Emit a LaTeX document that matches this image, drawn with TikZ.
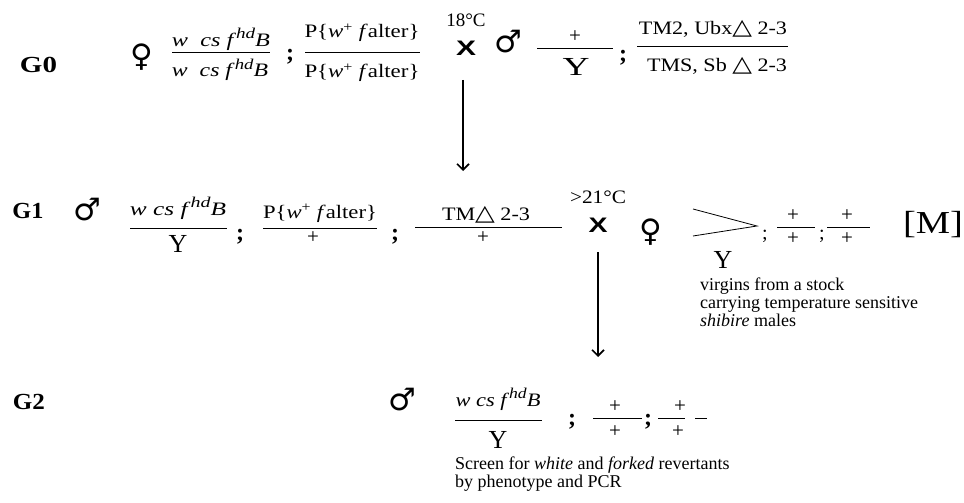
\documentclass[tikz,border=0pt]{standalone}
\usepackage{fontspec}
\usepackage{graphicx}
\setmainfont{Liberation Serif}
\newfontfamily\dejavu{DejaVu Sans}
\newfontfamily\arialf{Liberation Sans}
\usetikzlibrary{arrows.meta}
\newcommand{\tri}{{\dejavu\fontsize{22}{22}\selectfont △}}
\newcommand{\hdsup}{\raisebox{0.42em}{\fontsize{15}{15}\selectfont\itshape hd}}
\newcommand{\wcs}{\textit{w cs f}\hdsup\textit{B}}
\newcommand{\wcsw}{\textit{w\enspace cs f}\hdsup\textit{B}}
\newcommand{\pwf}{P\{\textit{w}\textsuperscript{+} \textit{f}alter\}}
\newcommand{\fitw}[2]{\resizebox{#1}{\height}{#2}}
\begin{document}
\begin{tikzpicture}[x=1pt,y=-1pt,
  lbl/.style={font=\fontsize{23}{28}\selectfont\bfseries, inner sep=0},
  geno/.style={font=\fontsize{19}{22}\selectfont, inner sep=0, anchor=base},
  bigY/.style={font=\fontsize{26}{30}\selectfont, inner sep=0, anchor=base},
  plus/.style={font=\fontsize{21}{22}\selectfont, inner sep=0},
  semi/.style={font=\fontsize{24}{28}\selectfont\bfseries, inner sep=0, anchor=base},
  smallsemi/.style={font=\fontsize{20}{22}\selectfont, inner sep=0, anchor=base},
  temp/.style={font=\fontsize{19}{20}\selectfont, inner sep=0},
  sym/.style={font=\dejavu\fontsize{31}{31}\selectfont, inner sep=0},
  cross/.style={font=\arialf\bfseries\fontsize{21}{21}\selectfont, inner sep=0},
  note/.style={font=\fontsize{18}{18}\selectfont, inner sep=0, align=left, anchor=north west},
  fl/.style={line width=0.8pt},
  conn/.style={line width=1.6pt, -{Straight Barb[length=6pt,width=12pt,line width=1.6pt]}}]
\useasboundingbox (0,0) rectangle (964,503);
% ---------- G0 ----------
\node[lbl] (g0) at (38.5,65) {\fitw{37pt}{G0}};
\node[sym] (f0) at (142,57) {♀};
\node[geno] (n01) at (221,46) {\fitw{98pt}{\wcsw}};
\node[geno] (d01) at (220,77) {\fitw{96pt}{\wcsw}};
\draw[fl] (172,52) -- (270,52);
\node[semi] (s01) at (290,60) {;};
\node[geno] (n02) at (362,38) {\fitw{115pt}{\pwf}};
\node[geno] (d02) at (362,78) {\fitw{115pt}{\pwf}};
\draw[fl] (305,52) -- (420,52);
\node[temp] (t0) at (466,20) {18°C};
\node[cross] (x0) at (466,48) {\fitw{20pt}{X}};
\node[sym] (m0) at (508,42) {♂};
\draw[fl] (537,48) -- (613,48);
\node[plus] (n03) at (575,37) {+};
\node[bigY] (d03) at (576,75) {\fitw{27pt}{Y}};
\node[semi] (s02) at (623,62) {;};
\draw[fl] (637,46) -- (788,46);
\node[geno] (n04) at (713,35) {\fitw{148pt}{TM2, Ubx\tri\ 2-3}};
\node[geno] (d04) at (717,71) {\fitw{140pt}{TMS, Sb \tri\ 2-3}};
\coordinate (a1s) at (463,80);
\coordinate (a1e) at (463,171);
\draw[conn] (a1s) -- (a1e);
% ---------- G1 ----------
\node[lbl] (g1) at (28,211) {\fitw{31pt}{G1}};
\node[sym] (m1) at (87,210) {♂};
\draw[fl] (130,228) -- (227,228);
\node[geno] (n11) at (178,215) {\fitw{96pt}{\wcs}};
\node[bigY] (d11) at (178,252) {Y};
\node[semi] (s11) at (240,240) {;};
\draw[fl] (263,228) -- (377,228);
\node[geno] (n12) at (320,218) {\fitw{114pt}{\pwf}};
\node[plus] (d12) at (313,238) {+};
\node[semi] (s12) at (395,240) {;};
\draw[fl] (415,227) -- (562,227);
\node[geno] (n13) at (486,220) {\fitw{88pt}{TM\tri\ 2-3}};
\node[plus] (d13) at (483,238) {+};
\node[temp] (t1) at (598,197) {\fitw{56pt}{>21°C}};
\node[cross] (x1) at (598,225) {\fitw{19pt}{X}};
\node[sym] (f1) at (651,232) {♀};
\draw[fl] (693,209) -- (757,226) -- (693,236);
\node[bigY] (y1) at (723,268) {Y};
\node[smallsemi] (s13) at (765,239) {;};
\draw[fl] (777,227) -- (815,227);
\node[plus] (n14) at (793,216) {+};
\node[plus] (d14) at (793,239) {+};
\node[smallsemi] (s14) at (822,239) {;};
\draw[fl] (827,227) -- (870,227);
\node[plus] (n15) at (847,216) {+};
\node[plus] (d15) at (847,239) {+};
\node[font=\fontsize{32}{36}\selectfont, inner sep=0] (mm) at (933,225) {\fitw{60pt}{[M]}};
\node[note] (v1) at (700,278) {virgins from a stock\\carrying temperature sensitive\\\textit{shibire} males};
\coordinate (a2s) at (598,252);
\coordinate (a2e) at (598,357);
\draw[conn] (a2s) -- (a2e);
% ---------- G2 ----------
\node[lbl] (g2) at (29,402) {\fitw{32pt}{G2}};
\node[sym] (m2) at (402,400) {♂};
\draw[fl] (455,420) -- (542,420);
\node[geno] (n21) at (498,406) {\fitw{85pt}{\wcs}};
\node[bigY] (d21) at (498,448) {Y};
\node[semi] (s21) at (572,425) {;};
\draw[fl] (593,418) -- (642,418);
\node[plus] (n22) at (615,407) {+};
\node[plus] (d22) at (615,432) {+};
\node[semi] (s22) at (648,425) {;};
\draw[fl] (658,418) -- (685,418);
\node[plus] (n23) at (680,407) {+};
\node[plus] (d23) at (678,432) {+};
\draw[fl] (695,418) -- (707,418);
\node[note] (sc) at (455,457) {Screen for \textit{white} and \textit{forked} revertants\\by phenotype and PCR};
\end{tikzpicture}
\end{document}
